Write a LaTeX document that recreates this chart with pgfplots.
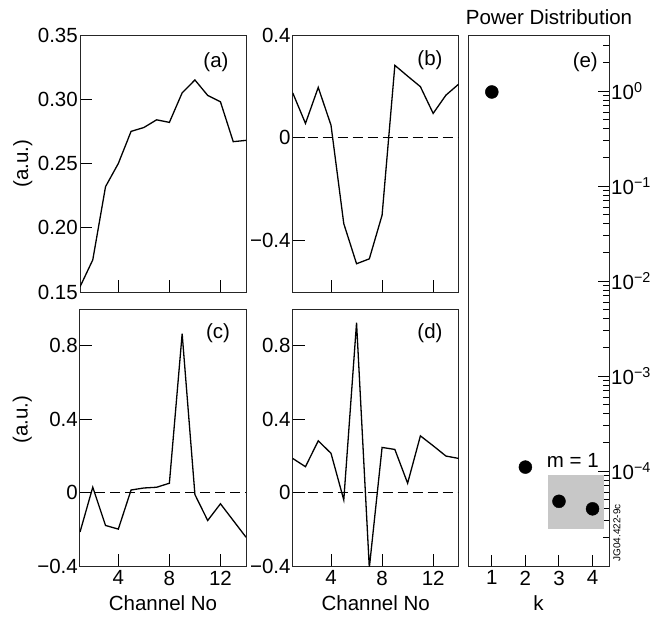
\documentclass[border=0pt]{standalone}
\usepackage{fontspec}
\setmainfont{Liberation Sans}
\usepackage{pgfplots}
\pgfplotsset{compat=1.18}

\newcommand{\bigfont}{\fontsize{20.5}{24}\selectfont}

\pgfplotsset{
  panel/.style={
    scale only axis,
    width=166pt, height=257pt,
    axis line style={line width=1pt, black!85},
    tick align=inside,
    xtick pos=bottom, ytick pos=left,
    major tick length=12pt,
    tick style={line width=1pt, black},
    xmin=1, xmax=14, xtick={4,8,12},
    ticklabel style={font=\bigfont, inner sep=2pt},
    xticklabel style={inner sep=4.5pt},
    label style={font=\bigfont},
    xlabel style={yshift=-2pt},
  },
  curve/.style={black, line width=1.3pt},
  zeroline/.style={black, line width=1.2pt, dash pattern=on 10pt off 5pt},
}

\begin{document}
\begin{tikzpicture}
\path[use as bounding box] (0,0) rectangle (669pt,-622pt);

% (a)
\begin{axis}[panel, at={(80pt,-35pt)}, anchor=north west,
    ymin=0.15, ymax=0.35, ytick={0.15,0.2,0.25,0.3,0.35},
    yticklabels={0.15,0.20,0.25,0.30,0.35}, xticklabels={},
    ylabel={(a.u.)}]
  \addplot[curve] coordinates {(1,0.154) (2,0.175) (3,0.232) (4,0.250) (5,0.275) (6,0.278) (7,0.284) (8,0.282) (9,0.305) (10,0.315) (11,0.303) (12,0.298) (13,0.267) (14,0.268)};
\end{axis}

% (b)
\begin{axis}[panel, at={(292.7pt,-35pt)}, anchor=north west,
    ymin=-0.6, ymax=0.4, ytick={-0.4,0,0.4},
    yticklabels={−0.4,0,0.4}, xticklabels={}]
  \addplot[zeroline] coordinates {(1,0) (14,0)};
  \addplot[curve] coordinates {(1,0.175) (2,0.056) (3,0.196) (4,0.049) (5,-0.334) (6,-0.490) (7,-0.471) (8,-0.301) (9,0.282) (10,0.240) (11,0.199) (12,0.095) (13,0.166) (14,0.209)};
\end{axis}

% (c)
\begin{axis}[panel, at={(80pt,-309pt)}, anchor=north west,
    ymin=-0.4, ymax=1.0, ytick={-0.4,0,0.4,0.8},
    yticklabels={−0.4,0,0.4,0.8}, xticklabels={4,8,12},
    xlabel={Channel No}, ylabel={(a.u.)},
    every axis y label/.append style={at={(ticklabel cs:0.57)}}]
  \addplot[zeroline] coordinates {(1,0) (14,0)};
  \addplot[curve] coordinates {(1,-0.215) (2,0.029) (3,-0.179) (4,-0.199) (5,0.014) (6,0.025) (7,0.029) (8,0.051) (9,0.865) (10,-0.011) (11,-0.152) (12,-0.061) (13,-0.152) (14,-0.243)};
\end{axis}

% (d)
\begin{axis}[panel, at={(292.7pt,-309pt)}, anchor=north west,
    ymin=-0.4, ymax=1.0, ytick={-0.4,0,0.4,0.8},
    yticklabels={−0.4,0,0.4,0.8}, xticklabels={4,8,12},
    xlabel={Channel No}]
  \addplot[zeroline] coordinates {(1,0) (14,0)};
  \addplot[curve] coordinates {(1,0.186) (2,0.141) (3,0.282) (4,0.214) (5,-0.040) (6,0.925) (7,-0.41) (8,0.246) (9,0.235) (10,0.051) (11,0.309) (12,0.255) (13,0.199) (14,0.186)};
\end{axis}

% (e)
\begin{axis}[scale only axis, width=141pt, height=531pt,
    at={(468pt,-35pt)}, anchor=north west,
    ymode=log, ymin=1e-5, ymax=3.9, xmin=0.29, xmax=4.49,
    axis line style={line width=1pt, black!85},
    tick align=inside, xtick pos=bottom, ytick pos=right,
    yticklabel pos=right,
    major tick length=11pt, minor tick length=6pt,
    tick style={line width=1pt, black},
    xtick={1,2,3,4}, xticklabels={1,2,3,4},
    ytick={1e-4,1e-3,1e-2,1e-1,1},
    yticklabels={10\textsuperscript{−4},10\textsuperscript{−3},10\textsuperscript{−2},10\textsuperscript{−1},10\textsuperscript{0}},
    minor ytick={2e-5,3e-5,4e-5,5e-5,6e-5,7e-5,8e-5,9e-5,
      2e-4,3e-4,4e-4,5e-4,6e-4,7e-4,8e-4,9e-4,
      2e-3,3e-3,4e-3,5e-3,6e-3,7e-3,8e-3,9e-3,
      2e-2,3e-2,4e-2,5e-2,6e-2,7e-2,8e-2,9e-2,
      0.2,0.3,0.4,0.5,0.6,0.7,0.8,0.9,2,3},
    ticklabel style={font=\bigfont, inner sep=2pt},
    xticklabel style={inner sep=4.5pt},
    label style={font=\bigfont},
    xlabel style={yshift=-2pt},
    xlabel={k}]
  \fill[black!22] (axis cs:2.68,9.0e-5) rectangle (axis cs:4.33,2.47e-5);
  \addplot[only marks, mark=*, mark size=6.5pt, black] coordinates {(1,0.98) (2,1.1e-4) (3,4.8e-5) (4,4.0e-5)};
  \node[font=\bigfont] at (axis cs:3.41,1.3e-4) {m = 1};
\end{axis}

\node[font=\bigfont] at (216pt,-62pt) {(a)};
\node[font=\bigfont] at (430pt,-60pt) {(b)};
\node[font=\bigfont] at (218pt,-333pt) {(c)};
\node[font=\bigfont] at (430pt,-333pt) {(d)};
\node[font=\bigfont, anchor=east, inner sep=1pt] at (599pt,-62pt) {(e)};
\node[font=\bigfont] at (549pt,-17pt) {Power Distribution};
\node[font=\fontsize{10}{12}\selectfont, rotate=90] at (617pt,-533pt) {JG04.422-9c};
\end{tikzpicture}
\end{document}
